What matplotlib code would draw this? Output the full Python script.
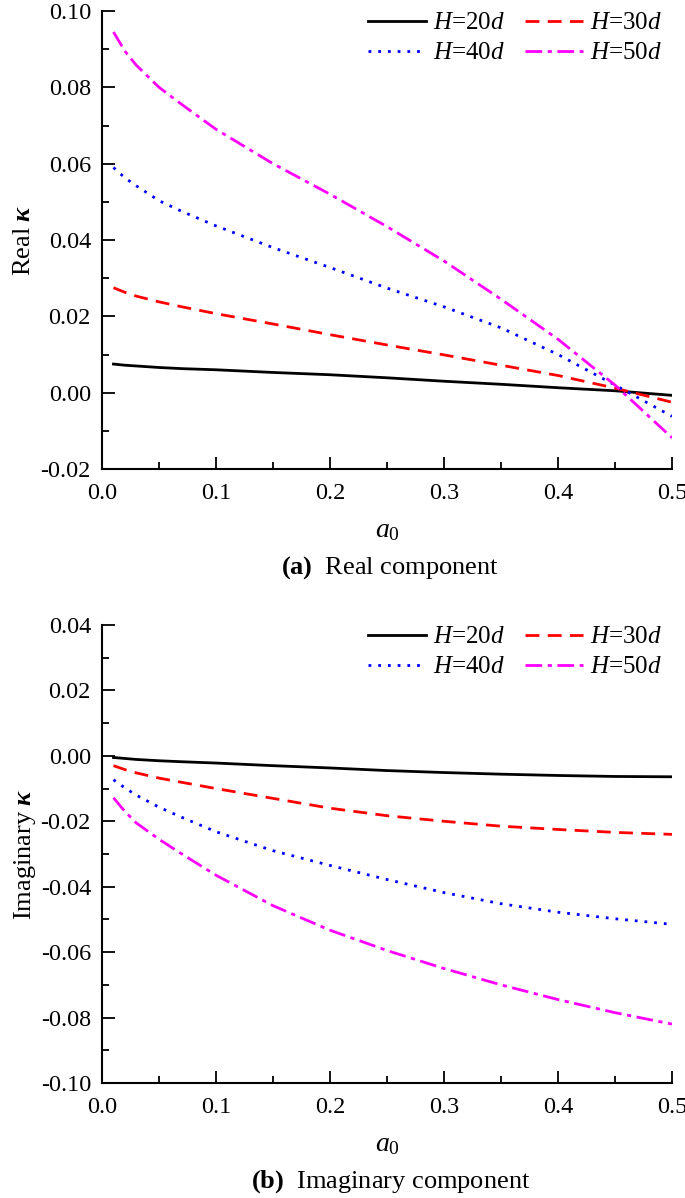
import numpy as np
import matplotlib
matplotlib.use("Agg")
import matplotlib.pyplot as plt
from matplotlib.ticker import MultipleLocator, FuncFormatter

plt.rcParams['font.family'] = ['Liberation Serif']
plt.rcParams['mathtext.fontset'] = 'custom'
plt.rcParams['mathtext.rm'] = 'Liberation Serif'
plt.rcParams['mathtext.it'] = 'Liberation Serif:italic'
plt.rcParams['mathtext.bf'] = 'Liberation Serif:bold'
plt.rcParams['mathtext.bfit'] = 'Liberation Serif:italic:bold'

# data
a0 = [0.01, 0.02, 0.03, 0.05, 0.07, 0.1, 0.15, 0.2, 0.25, 0.3, 0.35, 0.4, 0.45, 0.5]
labels = ['$H$=20$d$', '$H$=30$d$', '$H$=40$d$', '$H$=50$d$']

real_h20 = [0.0075, 0.0072, 0.0070, 0.0066, 0.0063, 0.0060, 0.0053, 0.0047, 0.0039, 0.0030, 0.0022, 0.0013, 0.0005, -0.0007]
real_h30 = [0.0275, 0.0263, 0.0253, 0.0238, 0.0225, 0.0207, 0.0180, 0.0152, 0.0125, 0.0099, 0.0072, 0.0045, 0.0012, -0.0025]
real_h40 = [0.0590, 0.0563, 0.0542, 0.0503, 0.0475, 0.0437, 0.0380, 0.0328, 0.0274, 0.0225, 0.0170, 0.0100, 0.0020, -0.0062]
real_h50 = [0.0945, 0.0895, 0.0858, 0.0800, 0.0755, 0.0690, 0.0600, 0.0520, 0.0435, 0.0345, 0.0245, 0.0140, 0.0020, -0.0118]

imag_h20 = [-0.0005, -0.0008, -0.0011, -0.0015, -0.0018, -0.0022, -0.0030, -0.0037, -0.0045, -0.0051, -0.0056, -0.0060, -0.0063, -0.0064]
imag_h30 = [-0.0030, -0.0042, -0.0052, -0.0068, -0.0081, -0.0100, -0.0130, -0.0160, -0.0183, -0.0200, -0.0215, -0.0225, -0.0234, -0.0240]
imag_h40 = [-0.0073, -0.0098, -0.0120, -0.0157, -0.0188, -0.0232, -0.0290, -0.0335, -0.0378, -0.0418, -0.0452, -0.0478, -0.0498, -0.0515]
imag_h50 = [-0.0128, -0.0170, -0.0205, -0.0255, -0.0300, -0.0365, -0.0458, -0.0533, -0.0595, -0.0650, -0.0700, -0.0745, -0.0785, -0.0820]

styles = [dict(color='black', linestyle='-'),
          dict(color='red', linestyle=(0, (5, 3))),
          dict(color='blue', linestyle=(0, (1, 2.5))),
          dict(color='magenta', linestyle=(0, (6, 2, 1.5, 2)))]

fig = plt.figure(figsize=(6.85, 11.98), dpi=100)
ax1 = fig.add_axes([0.149, 0.6085, 0.832, 0.3823])
ax2 = fig.add_axes([0.149, 0.0960, 0.832, 0.3823])


def fmt(n):
    return FuncFormatter(lambda v, p: ('%.' + str(n) + 'f') % (0.0 if abs(v) < 1e-9 else v))


def style_axes(ax, ylim, ylabel, ylabpad):
    ax.set_xlim(0, 0.5)
    ax.set_ylim(*ylim)
    ax.xaxis.set_major_locator(MultipleLocator(0.1))
    ax.xaxis.set_minor_locator(MultipleLocator(0.05))
    ax.yaxis.set_major_locator(MultipleLocator(0.02))
    ax.yaxis.set_minor_locator(MultipleLocator(0.01))
    ax.xaxis.set_major_formatter(fmt(1))
    ax.yaxis.set_major_formatter(fmt(2))
    ax.tick_params(which='both', direction='in', width=1.3, labelsize=17.5)
    ax.tick_params(which='major', length=9)
    ax.tick_params(axis='x', which='major', pad=10)
    ax.tick_params(axis='y', which='major', pad=8)
    ax.tick_params(which='minor', length=5)
    for s in ['top', 'right']:
        ax.spines[s].set_visible(False)
    for s in ['left', 'bottom']:
        ax.spines[s].set_linewidth(1.5)
    ax.set_xlabel('$a_0$', fontsize=20, labelpad=10)
    ax.set_ylabel(ylabel, fontsize=19, labelpad=ylabpad)
    h, l = ax.get_legend_handles_labels()
    order = [0, 2, 1, 3]
    ax.legend([h[i] for i in order], [l[i] for i in order],
              loc='upper right', bbox_to_anchor=(1.0, 1.02), ncol=2, frameon=False,
              fontsize=18, handlelength=2.3, handletextpad=0.3, columnspacing=0.8,
              labelspacing=0.3, borderaxespad=0.0)


for ys, lab, st in zip([real_h20, real_h30, real_h40, real_h50], labels, styles):
    ax1.plot(a0, ys, label=lab, linewidth=2, **st)
for ys, lab, st in zip([imag_h20, imag_h30, imag_h40, imag_h50], labels, styles):
    ax2.plot(a0, ys, label=lab, linewidth=2, **st)

style_axes(ax1, (-0.02, 0.10), r'Real $\mathbfit{\kappa}$', 4)
style_axes(ax2, (-0.10, 0.04), r'Imaginary $\mathbfit{\kappa}$', 2)

fig.text(0.57, 1 - 568 / 1198, r'$\mathbf{(a)}$  Real component', ha='center', va='center', fontsize=19)
fig.text(0.57, 1 - 1182 / 1198, r'$\mathbf{(b)}$  Imaginary component', ha='center', va='center', fontsize=19)

fig.savefig('out.png', dpi=100)
